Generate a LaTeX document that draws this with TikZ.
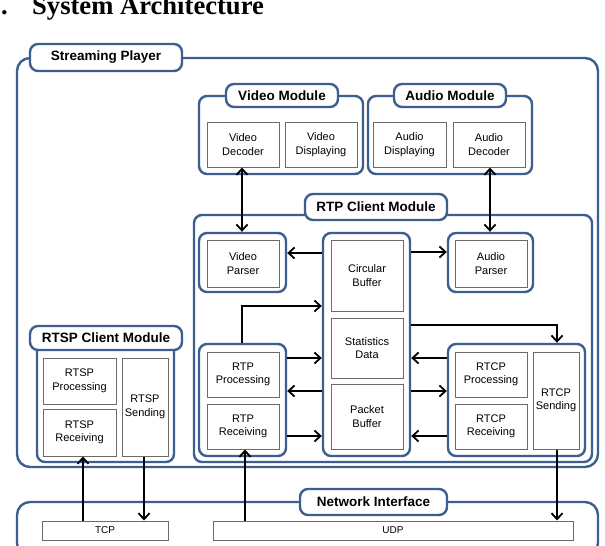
\documentclass[tikz,border=0pt]{standalone}
\usepackage{fontspec}
\setmainfont{Liberation Serif}
\setsansfont{Liberation Sans}
\usetikzlibrary{arrows.meta}
\definecolor{bblue}{HTML}{3D5F8F}
\definecolor{igray}{HTML}{6A6A6A}
\newcommand\bx[7]{\node[#1, minimum width={(#5)-(#3)}, minimum height={(#6)-(#4)}] (#2) at ({((#3)+(#5))/2},{((#4)+(#6))/2}) {#7};}
\begin{document}
\begin{tikzpicture}[x=1pt,y=-1pt,
 blu/.style={draw=bblue, line width=2.4pt, inner sep=0pt, fill=white},
 outerbox/.style={blu, rounded corners=13pt},
 modbox/.style={blu, rounded corners=8pt},
 lab/.style={blu, rounded corners=8pt, font=\sffamily\bfseries\fontsize{13.5}{16}\selectfont},
 ibox/.style={draw=igray, line width=1pt, fill=white, inner sep=0pt, align=center, font=\sffamily\fontsize{11}{13.5}\selectfont},
 nbox/.style={ibox, font=\sffamily\fontsize{10}{12}\selectfont},
 tip/.tip={Straight Barb[length=6pt,width=11pt,line width=1.8pt]},
 arr/.style={line width=1.8pt, -tip},
 darr/.style={line width=1.8pt, tip-tip}]
\useasboundingbox (0,0) rectangle (605,546);

% title
\node[anchor=base east, inner sep=0pt, font=\fontsize{26.6}{30}\selectfont\bfseries] (num) at (8,14) {1.};
\node[anchor=base west, inner sep=0pt, font=\fontsize{26.6}{30}\selectfont\bfseries] (title) at (32,14) {System Architecture};

% outer containers
\bx{outerbox}{sp}{17}{58}{598}{467}{}
\bx{outerbox}{ni}{17}{502}{598}{556}{}

% modules
\bx{modbox}{vm}{199}{96}{363}{174}{}
\bx{modbox}{am}{368}{96}{532}{174}{}
\bx{modbox}{rcm}{194}{215}{592}{462}{}
\bx{modbox}{rsm}{37}{338}{174}{462}{}

\bx{modbox}{vpo}{199}{233}{286}{292}{}
\bx{modbox}{apo}{448}{233}{533}{292}{}
\bx{modbox}{cbo}{323}{233}{410}{456}{}
\bx{modbox}{rtpo}{199}{344}{286}{456}{}
\bx{modbox}{rtcpo}{448}{344}{585}{456}{}

% labels
\bx{lab}{splab}{30}{44}{182}{71}{Streaming Player}
\bx{lab}{vmlab}{226}{84}{338}{107}{Video Module}
\bx{lab}{amlab}{394}{84}{506}{107}{Audio Module}
\bx{lab}{rcmlab}{305}{194}{447}{220}{RTP Client Module}
\bx{lab}{rsmlab}{30}{326}{182}{350}{RTSP Client Module}
\bx{lab}{nilab}{300}{489}{447}{515}{Network Interface}

% inner boxes
\bx{ibox}{vdec}{207}{122}{279}{167}{Video\\Decoder}
\bx{ibox}{vdisp}{285}{122}{357}{167}{Video\\Displaying}
\bx{ibox}{adisp}{373}{122}{446}{167}{Audio\\Displaying}
\bx{ibox}{adec}{453}{122}{525}{167}{Audio\\Decoder}

\bx{ibox}{vp}{207}{240}{279}{287}{Video\\Parser}
\bx{ibox}{ap}{455}{240}{527}{287}{Audio\\Parser}

\bx{ibox}{cb}{331}{240}{403}{311}{Circular\\Buffer}
\bx{ibox}{sd}{331}{318}{403}{378}{Statistics\\Data}
\bx{ibox}{pb}{331}{384}{403}{449}{Packet\\Buffer}

\bx{ibox}{rtpp}{207}{352}{279}{397}{RTP\\Processing}
\bx{ibox}{rtpr}{207}{404}{279}{449}{RTP\\Receiving}

\bx{ibox}{rtcpp}{455}{352}{527}{397}{RTCP\\Processing}
\bx{ibox}{rtcpr}{455}{404}{527}{449}{RTCP\\Receiving}
\bx{ibox}{rtcps}{533}{352}{579}{449}{RTCP\\Sending}

\bx{ibox}{rtspp}{43}{358}{116}{404}{RTSP\\Processing}
\bx{ibox}{rtspr}{43}{409}{116}{456}{RTSP\\Receiving}
\bx{ibox}{rtsps}{122}{358}{168}{456}{RTSP\\Sending}

\bx{nbox}{tcp}{42}{521}{168}{540}{TCP}
\bx{nbox}{udp}{213}{521}{573}{540}{UDP}

% connectors
\draw[darr] (vdec.south -| 242,0) -- (vpo.north -| 242,0);
\draw[darr] (adec.south -| 490,0) -- (apo.north -| 490,0);
\draw[arr] (cbo.west |- 0,253) -- (vpo.east |- 0,253);
\draw[arr] (cbo.east |- 0,252) -- (apo.west |- 0,252);
\draw[arr] (rtpo.north -| 242,0) -- (242,306) -- (cbo.west |- 0,306);
\draw[arr] (cbo.east |- 0,325) -- (557,325) -- (rtcpo.north -| 557,0);

\draw[arr] (rtpo.east |- 0,358) -- (cbo.west |- 0,358);
\draw[arr] (cbo.west |- 0,391) -- (rtpo.east |- 0,391);
\draw[arr] (rtpo.east |- 0,436) -- (cbo.west |- 0,436);

\draw[arr] (rtcpo.west |- 0,358) -- (cbo.east |- 0,358);
\draw[arr] (cbo.east |- 0,391) -- (rtcpo.west |- 0,391);
\draw[arr] (rtcpo.west |- 0,436) -- (cbo.east |- 0,436);

\draw[arr] (tcp.north -| 83,0) -- (rtspr.south -| 83,0);
\draw[arr] (rtsps.south -| 144,0) -- (tcp.north -| 144,0);
\draw[arr] (udp.north -| 245,0) -- (rtpr.south -| 245,0);
\draw[arr] (rtcps.south -| 557,0) -- (udp.north -| 557,0);
\end{tikzpicture}
\end{document}
